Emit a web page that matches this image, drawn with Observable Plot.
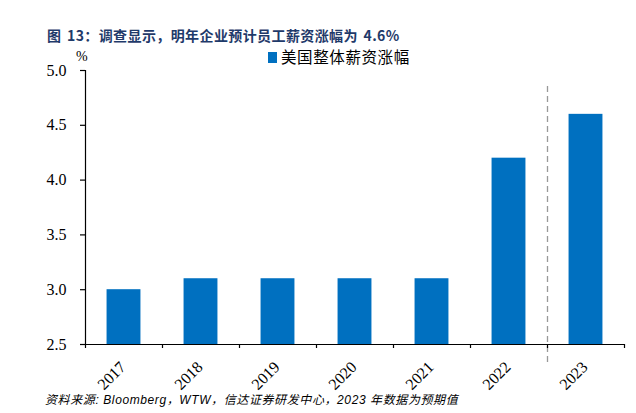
<!DOCTYPE html>
<html>
<head>
<meta charset="utf-8">
<script src="https://cdn.jsdelivr.net/npm/d3@7"></script>
<script src="https://cdn.jsdelivr.net/npm/@observablehq/plot@0.6"></script>
<style>
  html, body { margin: 0; padding: 0; background: #fff; }
  #wrap { position: relative; width: 636px; height: 413px; overflow: hidden; }
  #wrap div { line-height: 1; }
  #title { position: absolute; left: 47px; top: 28px; font: bold 14px "Noto Sans CJK SC", "Liberation Sans", sans-serif; letter-spacing: 0.4px; word-spacing: 2px; color: #1F3A6A; white-space: nowrap; }
  #legend { position: absolute; left: 268px; top: 50px; font: 15.5px "Liberation Serif", "Noto Sans CJK SC", serif; letter-spacing: 0.6px; color: #000; white-space: nowrap; display: flex; align-items: center; }
  #legend .sw { display: inline-block; width: 9px; height: 11px; background: #0070C0; margin-right: 4px; }
  #unit { position: absolute; left: 76px; top: 50px; font: 14px "Liberation Serif", serif; color: #000; }
  #caption { position: absolute; left: 45px; top: 394px; font: italic 12px "Liberation Sans", "Noto Sans CJK SC", sans-serif; letter-spacing: 0.6px; color: #000; white-space: nowrap; }
  #chart { position: absolute; left: 0; top: 0; }
</style>
</head>
<body>
<div id="wrap">
  <div id="chart"></div>
  <div id="title">图 13：调查显示，明年企业预计员工薪资涨幅为 4.6%</div>
  <div id="legend"><span class="sw"></span><span>美国整体薪资涨幅</span></div>
  <div id="unit">%</div>
  <div id="caption">资料来源: Bloomberg，WTW，信达证券研发中心，2023 年数据为预期值</div>
</div>
<script>
const years = ["2017", "2018", "2019", "2020", "2021", "2022", "2023"];
const values = [3.0, 3.1, 3.1, 3.1, 3.1, 4.2, 4.6];
const yTicks = [2.5, 3.0, 3.5, 4.0, 4.5, 5.0];
const forecastFrom = "2023";
const seriesName = "美国整体薪资涨幅";

const data = years.map((y, i) => ({year: y, idx: i, value: values[i]}));
const boundaries = d3.range(years.length + 1);
const forecastIdx = years.indexOf(forecastFrom);

const chart = Plot.plot({
  width: 636,
  height: 413,
  marginLeft: 85,
  marginRight: 12,
  marginTop: 70,
  marginBottom: 69,
  style: {fontFamily: "'Liberation Serif', serif", fontSize: "16px", color: "#000", background: "transparent"},
  x: {domain: [0, years.length], axis: null},
  y: {domain: [2.5, 5.0], axis: null},
  marks: [
    Plot.rectY(data, {x1: d => d.idx + 0.28, x2: d => d.idx + 0.72, y1: 2.5, y2: "value", fill: "#0070C0"}),
    Plot.ruleX([forecastIdx], {stroke: "#999", strokeWidth: 1.3, strokeDasharray: "6,4", insetTop: 16, insetBottom: -22}),
    Plot.ruleY([2.5], {stroke: "#000", strokeWidth: 1.2}),
    Plot.ruleX([0], {stroke: "#000", strokeWidth: 1.2}),
    Plot.axisX({ticks: boundaries, tickSize: 4, tickFormat: () => "", strokeWidth: 1.2}),
    Plot.axisX({ticks: years.map((_, i) => i + 0.5), tickSize: 0, tickRotate: -45, tickPadding: 8, dx: -1, dy: 12, tickFormat: v => years[Math.round(v - 0.5)], fontSize: 16}),
    Plot.axisY({ticks: yTicks, tickSize: 5, tickPadding: 14, tickFormat: d3.format(".1f"), strokeWidth: 1.2, fontSize: 16, label: null})
  ]
});
document.getElementById("chart").appendChild(chart);
</script>
</body>
</html>
